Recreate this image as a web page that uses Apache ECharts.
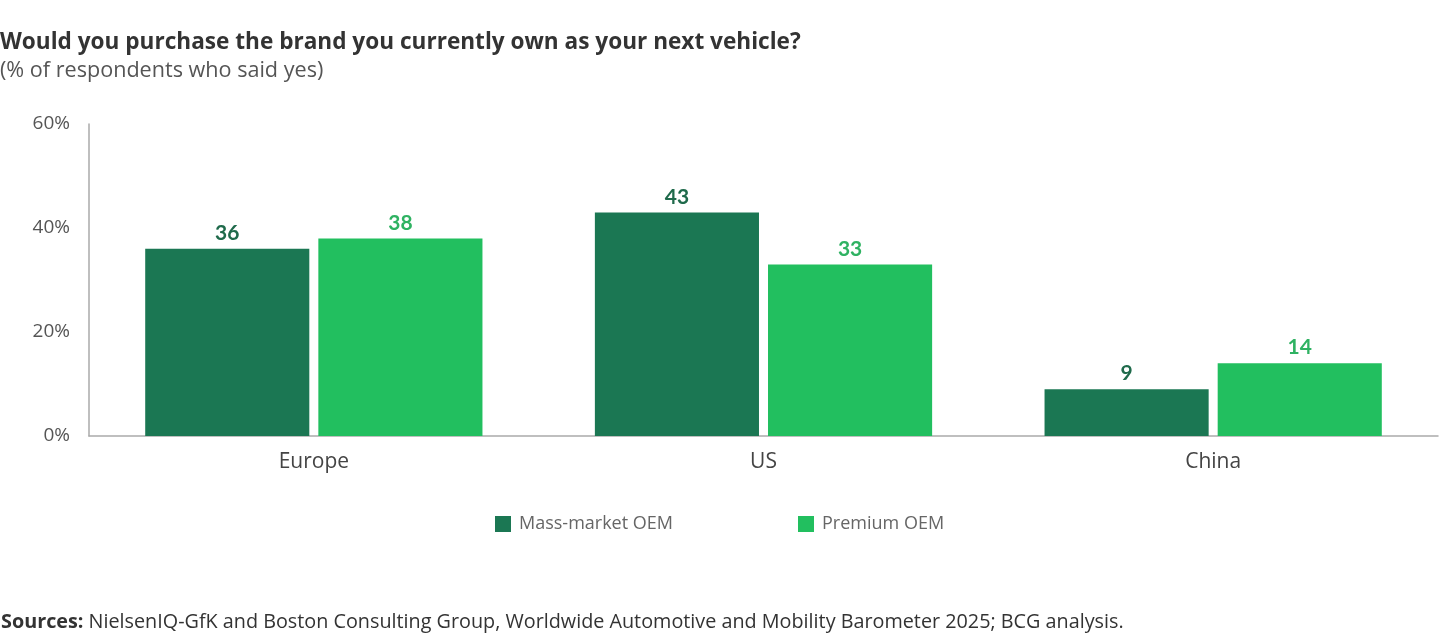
<!DOCTYPE html>
<html>
<head>
<meta charset="utf-8">
<script src="https://cdn.jsdelivr.net/npm/echarts@6/dist/echarts.min.js"></script>
<style>
  html, body { margin: 0; padding: 0; background: #fff; }
  #chart { width: 1440px; height: 634px; }
</style>
</head>
<body>
<div id="chart"></div>
<script>
// data
const regions = ['Europe', 'US', 'China'];
const massMarket = [36, 43, 9];
const premium = [38, 33, 14];
const yTicks = [0, 20, 40, 60];

const darkGreen = '#1b7753';
const lightGreen = '#22bf5f';
const font = 'Open Sans';

const chart = echarts.init(document.getElementById('chart'));

const option = {
  animation: false,
  textStyle: { fontFamily: font },
  title: [
    {
      text: 'Would you purchase the brand you currently own as your next vehicle?',
      left: -5, top: 26,
      textStyle: { fontSize: 22.6, fontWeight: 'bold', color: '#333', fontFamily: font }
    },
    {
      text: '(% of respondents who said yes)',
      left: -5, top: 55,
      textStyle: { fontSize: 21.6, fontWeight: 'normal', color: '#555', fontFamily: font }
    },
    {
      text: '{b|Sources:} NielsenIQ-GfK and Boston Consulting Group, Worldwide Automotive and Mobility Barometer 2025; BCG analysis.',
      left: -4, top: 607,
      textStyle: {
        fontSize: 19.8, fontWeight: 'normal', color: '#333', fontFamily: font,
        rich: { b: { fontSize: 19.8, fontWeight: 'bold', color: '#333', fontFamily: font } }
      }
    }
  ],
  legend: {
    top: 510, left: 490,
    itemWidth: 16, itemHeight: 16, itemGap: 125,
    icon: 'rect',
    textStyle: { fontSize: 18, color: '#666', fontFamily: font, padding: [0, 0, 0, 3] },
    data: ['Mass-market OEM', 'Premium OEM']
  },
  grid: { left: 89, right: 2, top: 124, bottom: 198, containLabel: false },
  xAxis: {
    type: 'category',
    data: regions,
    axisLine: { lineStyle: { color: '#aaa', width: 1.5 } },
    axisTick: { show: false },
    axisLabel: { fontSize: 21, color: '#444', margin: 16, fontFamily: font }
  },
  yAxis: {
    type: 'value',
    min: yTicks[0], max: yTicks[yTicks.length - 1], interval: 20,
    axisLine: { show: true, lineStyle: { color: '#aaa', width: 1.5 } },
    axisTick: { show: false },
    splitLine: { show: false },
    axisLabel: { fontSize: 19, color: '#555', margin: 19, formatter: '{value}%', fontFamily: font }
  },
  series: [
    {
      name: 'Mass-market OEM',
      type: 'bar',
      data: massMarket,
      itemStyle: { color: darkGreen },
      barGap: '5.5%',
      barCategoryGap: '25%',
      label: { show: true, position: 'top', distance: 5, fontSize: 21, fontWeight: 'bold', color: '#1f6a4b', fontFamily: 'Lato' }
    },
    {
      name: 'Premium OEM',
      type: 'bar',
      data: premium,
      itemStyle: { color: lightGreen },
      label: { show: true, position: 'top', distance: 5, fontSize: 21, fontWeight: 'bold', color: '#2fb262', fontFamily: 'Lato' }
    }
  ]
};

chart.setOption(option);
window.addEventListener('resize', () => chart.resize());
</script>
</body>
</html>
